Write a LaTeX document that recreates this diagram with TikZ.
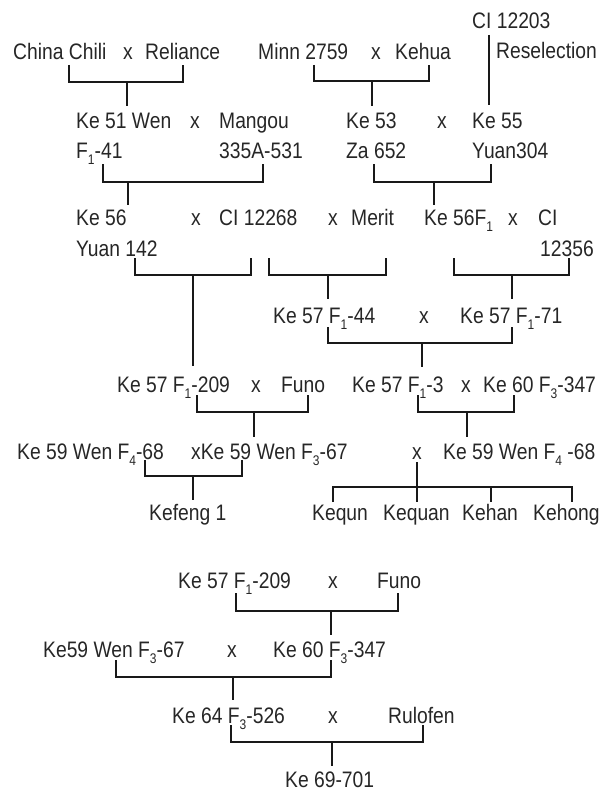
\documentclass[tikz,border=0pt]{standalone}
\usepackage{fontspec}
\setmainfont{Liberation Sans}[FakeStretch=0.86]
\newcommand\sbs[1]{\raisebox{-6.5bp}{\fontsize{14}{14}\selectfont #1}}
\newcommand\brk[7]{%
  \coordinate (#1l) at (#2,#4);
  \coordinate (#1r) at (#3,#4);
  \coordinate (#1m) at (#6,#5);
  \coordinate (#1s) at (#6,#7);
  \draw[link] (#1l) |- (#3,#5) -- (#1r);
  \draw[link] (#1m) -- (#1s);}
\begin{document}
\begin{tikzpicture}[x=1bp,y=-1bp,
  every node/.style={font=\fontsize{22.5}{26}\selectfont, text=black!85, inner sep=0pt, anchor=base west},
  link/.style={line width=2.8bp, draw=black!90, line join=miter, line cap=butt}]
\useasboundingbox (0,0) rectangle (609,793);
% row 1
\node (ci1) at (472,29) {CI 12203};
\node (resel) at (496,59) {Reselection};
\node (china) at (13,60) {China Chili};
\node (xa) at (123,60) {x};
\node (reli) at (145,60) {Reliance};
\node (minn) at (258,60) {Minn 2759};
\node (xb) at (371,60) {x};
\node (kehua) at (395,60) {Kehua};
% row 2
\node (ke51) at (76,128) {Ke 51 Wen};
\node (xc) at (190,128) {x};
\node (mang) at (219,128) {Mangou};
\node (ke53) at (346,128) {Ke 53};
\node (xd) at (437,128) {x};
\node (ke55) at (472,128) {Ke 55};
% row 3
\node (f141) at (76,158) {F\sbs{1}-41};
\node (m335) at (219,158) {335A-531};
\node (za) at (346,158) {Za 652};
\node (yuan304) at (472,158) {Yuan304};
% row 4
\node (ke56) at (76,225) {Ke 56};
\node (xe) at (191,225) {x};
\node (ci2) at (219,225) {CI 12268};
\node (xf) at (328,225) {x};
\node (merit) at (351,225) {Merit};
\node (ke56f) at (424,225) {Ke 56F\sbs{1}};
\node (xg) at (508,225) {x};
\node (ci3) at (538,225) {CI};
% row 5
\node (yuan142) at (76,256) {Yuan 142};
\node (ci3b) at (540,256) {12356};
% row 6
\node (k44) at (273,323) {Ke 57 F\sbs{1}-44};
\node (xh) at (419,323) {x};
\node (k71) at (460,323) {Ke 57 F\sbs{1}-71};
% row 7
\node (k209) at (117,392) {Ke 57 F\sbs{1}-209};
\node (xi) at (251,392) {x};
\node (funo) at (281,392) {Funo};
\node (k3) at (352,392) {Ke 57 F\sbs{1}-3};
\node (xj) at (461,392) {x};
\node (k347) at (483,392) {Ke 60 F\sbs{3}-347};
% row 8
\node (w68) at (17,459) {Ke 59 Wen F\sbs{4}-68};
\node (w67) at (191,459) {xKe 59 Wen F\sbs{3}-67};
\node (xk) at (412,459) {x};
\node (w68b) at (443,459) {Ke 59 Wen F\sbs{4} -68};
% row 9
\node (kefeng) at (149,520) {Kefeng 1};
\node (kequn) at (312,520) {Kequn};
\node (kequan) at (383,520) {Kequan};
\node (kehan) at (462,520) {Kehan};
\node (kehong) at (533,520) {Kehong};
% lower tree
\node (l209) at (178,588) {Ke 57 F\sbs{1}-209};
\node (xl) at (328,588) {x};
\node (lfuno) at (377,588) {Funo};
\node (l67) at (43,657) {Ke59 Wen F\sbs{3}-67};
\node (xm) at (227,657) {x};
\node (l347) at (273,657) {Ke 60 F\sbs{3}-347};
\node (l526) at (172,723) {Ke 64 F\sbs{3}-526};
\node (xn) at (328,723) {x};
\node (rulo) at (388,723) {Rulofen};
\node (k701) at (285,787) {Ke 69-701};
% connectors
\brk{ba}{69}{183}{65}{82}{127}{106}
\brk{bb}{314}{429}{65}{81}{372}{106}
\coordinate (cia) at (489,35);
\coordinate (cib) at (489,105);
\draw[link] (cia) -- (cib);
\brk{bc}{103}{263}{164}{182}{128}{205}
\brk{bd}{374}{491}{164}{182}{434}{205}
\brk{be}{135}{251}{258}{275}{193}{366}
\brk{bf}{269}{386}{258}{275}{328}{299}
\brk{bg}{454}{569}{258}{275}{512}{299}
\brk{bh}{328}{512}{327}{343}{422}{367}
\brk{bi}{197}{308}{395}{412}{254}{437}
\brk{bj}{418}{514}{395}{412}{467}{437}
\brk{bk}{145}{242}{460}{476}{193}{500}
% offspring fan
\coordinate (xtop) at (417,462);
\coordinate (fa) at (333,502);
\coordinate (fb) at (417,502);
\coordinate (fc) at (491,502);
\coordinate (fd) at (572,502);
\draw[link] (xtop) -- (fb);
\draw[link] (fa) |- (491,487) -- (fc);
\draw[link] (491,487) -| (fd);
% lower
\brk{bl}{236}{398}{593}{611}{331}{635}
\brk{bm}{116}{331}{660}{677}{233}{700}
\brk{bn}{231}{423}{725}{742}{332}{766}
\end{tikzpicture}
\end{document}
